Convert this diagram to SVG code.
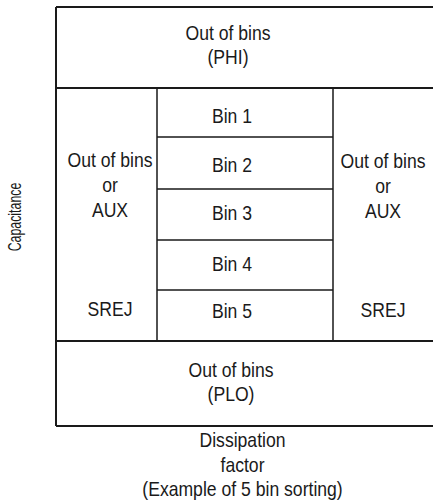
<svg xmlns="http://www.w3.org/2000/svg" width="433" height="502" viewBox="0 0 433 502">
  <style>
    .t { font-family: "Liberation Sans", Arial, sans-serif; font-size: 20px; fill: #1a1a1a; text-anchor: middle; }
    .ax { font-family: "Liberation Sans", Arial, sans-serif; font-size: 19px; fill: #1a1a1a; text-anchor: middle; }
    .frame { stroke: #1a1a1a; stroke-width: 2; fill: none; }
    .inner { stroke: #1a1a1a; stroke-width: 1.5; fill: none; }
  </style>
  <rect width="433" height="502" fill="#ffffff"/>

  <g id="grid">
    <path class="frame" d="M56,7 H433 M56,7 V426 M56,88 H433 M56,341 H433 M56,426 H433"/>
    <path class="inner" d="M157,88 V341 M333,88 V341 M157,137 H333 M157,189 H333 M157,240 H333 M157,290 H333"/>
  </g>

  <g id="phi">
    <text class="t" transform="translate(228,40) scale(0.88,1)">Out of bins</text>
    <text class="t" transform="translate(228,64) scale(0.88,1)">(PHI)</text>
  </g>
  <g id="left">
    <text class="t" transform="translate(110,167) scale(0.88,1)">Out of bins</text>
    <text class="t" transform="translate(110,192) scale(0.88,1)">or</text>
    <text class="t" transform="translate(110,217) scale(0.88,1)">AUX</text>
    <text class="t" transform="translate(110,316) scale(0.88,1)">SREJ</text>
  </g>
  <g id="bin1"><text class="t" transform="translate(232,123) scale(0.88,1)">Bin 1</text></g>
  <g id="bin2"><text class="t" transform="translate(232,172) scale(0.88,1)">Bin 2</text></g>
  <g id="bin3"><text class="t" transform="translate(232,220) scale(0.88,1)">Bin 3</text></g>
  <g id="bin4"><text class="t" transform="translate(232,271) scale(0.88,1)">Bin 4</text></g>
  <g id="bin5"><text class="t" transform="translate(232,318) scale(0.88,1)">Bin 5</text></g>
  <g id="right">
    <text class="t" transform="translate(383,168) scale(0.88,1)">Out of bins</text>
    <text class="t" transform="translate(383,193) scale(0.88,1)">or</text>
    <text class="t" transform="translate(383,218) scale(0.88,1)">AUX</text>
    <text class="t" transform="translate(383,317) scale(0.88,1)">SREJ</text>
  </g>
  <g id="plo">
    <text class="t" transform="translate(231,377) scale(0.88,1)">Out of bins</text>
    <text class="t" transform="translate(231,401) scale(0.88,1)">(PLO)</text>
  </g>
  <g id="xaxis">
    <text class="t" transform="translate(242.5,447) scale(0.88,1)">Dissipation</text>
    <text class="t" transform="translate(242.5,472) scale(0.88,1)">factor</text>
    <text class="t" transform="translate(242.5,496) scale(0.88,1)">(Example of 5 bin sorting)</text>
  </g>
  <g id="yaxis">
    <text class="ax" transform="translate(21,217) rotate(-90) scale(0.65,1)">Capacitance</text>
  </g>
  <g id="connectors"></g>
</svg>
